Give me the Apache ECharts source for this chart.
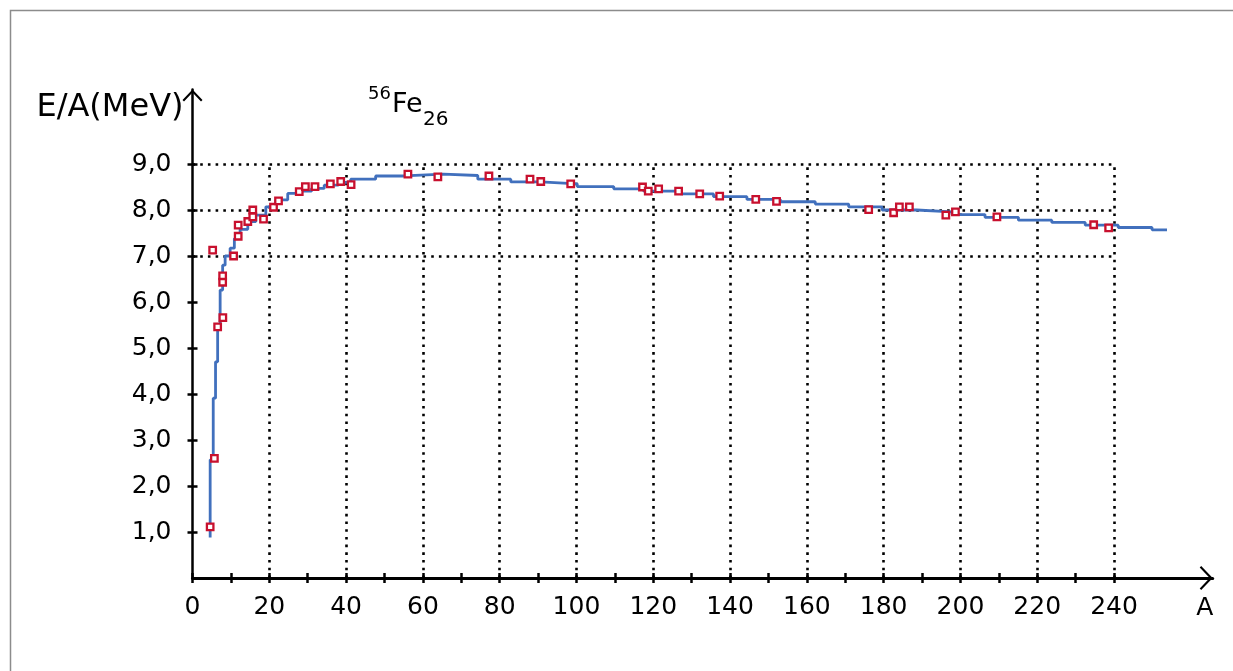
<!DOCTYPE html>
<html>
<head>
<meta charset="utf-8">
<script src="https://cdn.jsdelivr.net/npm/echarts@6/dist/echarts.min.js"></script>
<style>
  html, body { margin: 0; padding: 0; background: #fff; }
  #chart { width: 1233px; height: 671px; }
</style>
</head>
<body>
<div id="chart"></div>
<script>
// calculated curve (drawn as steps, like the picture)
var curveA = [4.6, 4.6, 5.4, 6.0, 6.55, 7.2, 7.85, 8.5, 9.8, 10.9, 12.4, 14.4, 16.5, 19.1, 21.7, 24.8, 27.7, 31.0,
  34.3, 38.0, 41.2, 47.7, 55.0, 65.4, 74.3, 82.9, 90.7, 100.2, 109.7, 117.5, 127.1, 135.7, 144.4, 153.1, 162.2,
  170.9, 179.6, 188.6, 197.8, 206.4, 215.1, 223.8, 232.5, 241.1, 249.9, 253.8];
var curveE = [0.88, 2.57, 3.91, 4.70, 5.46, 6.26, 6.80, 7.00, 7.17, 7.38, 7.58, 7.75, 7.89, 8.07, 8.22, 8.36, 8.41, 8.47,
  8.54, 8.60, 8.67, 8.74, 8.78, 8.75, 8.67, 8.61, 8.57, 8.51, 8.46, 8.41, 8.35, 8.29, 8.23, 8.18, 8.13,
  8.07, 8.00, 7.96, 7.90, 7.84, 7.78, 7.73, 7.67, 7.62, 7.57, 7.57];

// measured nuclei (red squares)
var expA = [4.6, 5.7, 6.55, 7.9, 7.85, 7.85, 5.25, 10.7, 11.9, 11.9, 14.4, 15.7, 15.7, 18.5, 21.1, 22.4, 27.8, 29.4,
  31.9, 35.9, 38.6, 41.3, 56.1, 63.9, 77.2, 87.9, 90.7, 98.5, 117.2, 118.7, 121.4, 126.6, 132.1, 137.3, 146.7,
  152.1, 176.1, 182.6, 184.1, 186.7, 196.2, 198.7, 209.5, 234.7, 238.6];
var expE = [1.11, 2.60, 5.46, 5.66, 6.57, 6.43, 7.13, 7.00, 7.43, 7.67, 7.75, 8.00, 7.85, 7.80, 8.06, 8.20, 8.40, 8.51,
  8.51, 8.57, 8.62, 8.55, 8.78, 8.72, 8.74, 8.67, 8.62, 8.57, 8.50, 8.41, 8.46, 8.41, 8.35, 8.30, 8.23,
  8.19, 8.01, 7.94, 8.07, 8.07, 7.89, 7.96, 7.85, 7.68, 7.61];

// axes
var xTicks = [0, 10, 20, 30, 40, 50, 60, 70, 80, 90, 100, 110, 120, 130, 140, 150, 160, 170, 180, 190, 200, 210, 220, 230, 240];
var xLabels = [0, 20, 40, 60, 80, 100, 120, 140, 160, 180, 200, 220, 240];
var yTicks = [1, 2, 3, 4, 5, 6, 7, 8, 9];
var xGrid = [20, 40, 60, 80, 100, 120, 140, 160, 180, 200, 220, 240];
var yGrid = [7, 8, 9];

var FONT = "'DejaVu Sans', Verdana, sans-serif";
var xMax = 265.7, yMax = 10.62;

var chart = echarts.init(document.getElementById('chart'));

//dotted grid only inside 0..240 / 0..9
var gridLines = [];
xGrid.forEach(function (a) { gridLines.push([{ coord: [a, 0] }, { coord: [a, 9] }]); });
yGrid.forEach(function (e) { gridLines.push([{ coord: [0, e] }, { coord: [240, e] }]); });

var option = {
  backgroundColor: '#fff',
  animation: false,
  textStyle: { fontFamily: FONT, color: '#000' },
  grid: { left: 192.5, right: 20.3, top: 89.5, bottom: 93, containLabel: false },
  xAxis: [
    {
      type: 'value', min: 0, max: xMax,
      name: 'A', nameLocation: 'end', nameGap: -8,
      nameTextStyle: { fontFamily: FONT, fontSize: 25, color: '#000', align: 'center', verticalAlign: 'top', padding: [18, 0, 0, 0] },
      axisLine: {
        show: true, onZero: false,
        symbol: ['none', 'path://M12,0 L24,11.5 L22.5,13 L12,3 L1.5,13 L0,11.5 Z'],
        symbolSize: [24, 13], symbolOffset: [0, -6.5],
        lineStyle: { color: '#000', width: 3 }
      },
      axisTick: { show: true, inside: false, length: 5, customValues: xTicks, lineStyle: { color: '#000', width: 2.5 } },
      axisLabel: {
        show: true, customValues: xLabels, margin: 17, fontSize: 25, color: '#000', fontFamily: FONT,
        formatter: function (v) { return String(v); }
      },
      splitLine: { show: false }
    },
    {
      // ticks on the other side of the axis line
      type: 'value', min: 0, max: xMax, position: 'bottom',
      axisLine: { show: false },
      axisTick: { show: true, inside: true, length: 5, customValues: xTicks, lineStyle: { color: '#000', width: 2.5 } },
      axisLabel: { show: false },
      splitLine: { show: false }
    }
  ],
  yAxis: [
    {
      type: 'value', min: 0, max: yMax,
      name: 'E/A(MeV)', nameLocation: 'end', nameGap: -18.5,
      nameTextStyle: { fontFamily: FONT, fontSize: 32, color: '#000', align: 'right', verticalAlign: 'middle', padding: [0, 9, 0, 0] },
      axisLine: {
        show: true, onZero: false,
        symbol: ['none', 'path://M10,0 L20,10.5 L18.5,12 L10,3 L1.5,12 L0,10.5 Z'],
        symbolSize: [20, 12], symbolOffset: [0, -6],
        lineStyle: { color: '#000', width: 2.5 }
      },
      axisTick: { show: true, inside: false, length: 5, customValues: yTicks, lineStyle: { color: '#000', width: 2.5 } },
      axisLabel: {
        show: true, customValues: yTicks, margin: 21, fontSize: 25, color: '#000', fontFamily: FONT,
        formatter: function (v) { return v.toFixed(1).replace('.', ','); }
      },
      splitLine: { show: false }
    },
    {
      type: 'value', min: 0, max: yMax, position: 'left',
      axisLine: { show: false },
      axisTick: { show: true, inside: true, length: 5, customValues: yTicks, lineStyle: { color: '#000', width: 2.5 } },
      axisLabel: { show: false },
      splitLine: { show: false }
    }
  ],
  graphic: [
    {
      type: 'polyline', silent: true, z: 0,
      shape: { points: [[10.5, 671], [10.5, 10.5], [1233, 10.5]] },
      style: { stroke: '#8c8c8c', lineWidth: 1.5, fill: null }
    },
    { type: 'text', x: 368, y: 94, style: { text: '56', font: '18px ' + FONT, fill: '#000', verticalAlign: 'middle' } },
    { type: 'text', x: 392, y: 104.5, style: { text: 'Fe', font: '27px ' + FONT, fill: '#000', verticalAlign: 'middle' } },
    { type: 'text', x: 423, y: 120, style: { text: '26', font: '20px ' + FONT, fill: '#000', verticalAlign: 'middle' } }
  ],
  series: [
    {
      name: 'grid', type: 'line', data: [], z: 1, silent: true,
      markLine: {
        z: 1, silent: true, symbol: ['none', 'none'], animation: false,
        label: { show: false },
        lineStyle: { color: '#000', width: 2.6, type: [2.6, 5.1], cap: 'butt' },
        emphasis: { disabled: true },
        data: gridLines
      }
    },
    {
      name: 'curve', type: 'line', step: 'end', showSymbol: false, symbol: 'none', z: 3,
      lineStyle: { color: '#4170bd', width: 2.8 },
      data: curveA.map(function (a, i) { return [a, curveE[i]]; })
    },
    {
      name: 'exp', type: 'scatter', symbol: 'rect', symbolSize: 6.5, z: 4,
      itemStyle: { color: '#fff', borderColor: '#c8102e', borderWidth: 2.3, opacity: 1 },
      data: expA.map(function (a, i) { return [a, expE[i]]; })
    }
  ]
};

chart.setOption(option);
</script>
</body>
</html>
